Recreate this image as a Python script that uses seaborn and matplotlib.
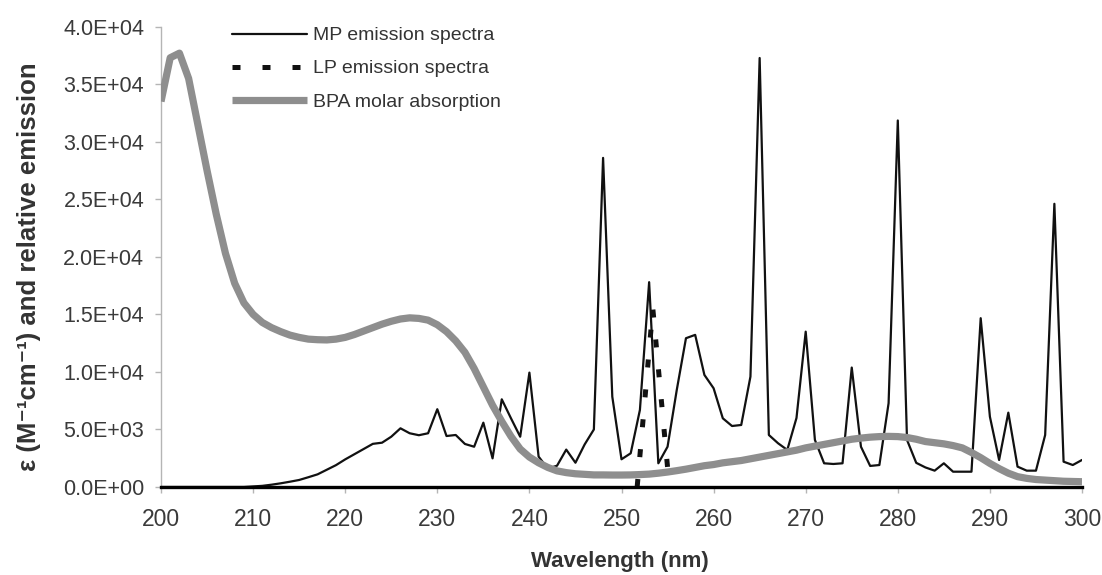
import numpy as np
import pandas as pd
import matplotlib
matplotlib.use("Agg")
import matplotlib.pyplot as plt
import seaborn as sns

# ---------------- data ----------------
wavelength = list(range(200, 301))

mp_emission = [
    0, 0, 0, 0, 0, 0, 0, 0, 0, 0,                 # 200-209
    50, 100, 200, 320, 460, 610, 850, 1100, 1500, 1900,   # 210-219
    2400, 2850, 3300, 3750, 3850, 4370, 5100, 4670, 4500, 4670,  # 220-229
    6760, 4430, 4520, 3740, 3500, 5590, 2490, 7620, 5970, 4370,  # 230-239
    9940, 2640, 1600, 1850, 3250, 2110, 3700, 5000, 28600, 7850, # 240-249
    2410, 2930, 6700, 17800, 2060, 3500, 8430, 12930, 13220, 9740, # 250-259
    8580, 5970, 5300, 5390, 9590, 37280, 4520, 3800, 3220, 6000,  # 260-269
    13500, 4090, 2060, 2000, 2060, 10380, 3500, 1830, 1910, 7280, # 270-279
    31850, 4090, 2100, 1700, 1420, 2060, 1330, 1330, 1330, 14670, # 280-289
    6110, 2350, 6460, 1770, 1420, 1420, 4520, 24610, 2200, 1910,  # 290-299
    2350,                                                         # 300
]

bpa_absorption = [
    33500, 37300, 37700, 35500, 31500, 27500, 23700, 20300, 17700, 16000,  # 200-209
    15000, 14300, 13850, 13500, 13200, 13000, 12850, 12800, 12780, 12850,  # 210-219
    13000, 13250, 13550, 13850, 14150, 14400, 14600, 14700, 14650, 14500,  # 220-229
    14100, 13500, 12700, 11700, 10300, 8700, 7100, 5700, 4400, 3300,       # 230-239
    2600, 2100, 1700, 1400, 1250, 1150, 1100, 1050, 1050, 1040,            # 240-249
    1040, 1050, 1080, 1120, 1200, 1300, 1420, 1550, 1700, 1850,            # 250-259
    1950, 2100, 2200, 2300, 2450, 2600, 2750, 2900, 3050, 3200,            # 260-269
    3400, 3550, 3700, 3850, 4000, 4150, 4250, 4330, 4380, 4400,            # 270-279
    4380, 4300, 4150, 3950, 3850, 3750, 3600, 3400, 3000, 2550,            # 280-289
    2050, 1600, 1200, 900, 750, 650, 600, 550, 500, 480,                   # 290-299
    460,                                                                   # 300
]

lp_wavelength = [251.7, 253.4, 255.2]
lp_emission = [0, 15500, 0]

x_ticks = list(range(200, 301, 10))
y_ticks = list(range(0, 40001, 5000))

labels = ["MP emission spectra", "LP emission spectra", "BPA molar absorption"]

# ---------------- plot ----------------
sns.set_theme(style="white")
plt.rcParams["font.family"] = ["Liberation Sans", "DejaVu Sans"]

fig = plt.figure(figsize=(11.02, 5.75), dpi=100)
ax = fig.add_axes([161 / 1102, 1 - 487 / 575, 921 / 1102, (487 - 26.7) / 575])

df_mp = pd.DataFrame({"wl": wavelength, "val": mp_emission})
df_bpa = pd.DataFrame({"wl": wavelength, "val": bpa_absorption})
df_lp = pd.DataFrame({"wl": lp_wavelength, "val": lp_emission})

sns.lineplot(data=df_mp, x="wl", y="val", ax=ax, color="#111111",
             linewidth=1.6, label=labels[0], zorder=3)
sns.lineplot(data=df_bpa, x="wl", y="val", ax=ax, color="#8e8e8e",
             linewidth=5.2, label=labels[2], zorder=4, solid_capstyle="butt")
sns.lineplot(data=df_lp, x="wl", y="val", ax=ax, color="#111111",
             linewidth=3.6, label=labels[1], zorder=5)
lp_line = ax.lines[2]
lp_line.set_dashes((1.6, 4.4))
lp_line.set_dash_capstyle("butt")

ax.set_xlim(200, 300)
ax.set_ylim(0, 40000)
ax.set_xticks(x_ticks)
ax.set_yticks(y_ticks)
ax.set_yticklabels(["%.1E" % v for v in y_ticks])

for s in ["top", "right"]:
    ax.spines[s].set_visible(False)
ax.spines["left"].set_color("#b5b5b5")
ax.spines["left"].set_linewidth(1.0)
ax.spines["bottom"].set_color("black")
ax.spines["bottom"].set_linewidth(2.4)
ax.spines["bottom"].set_zorder(6)

ax.tick_params(axis="both", which="major", direction="out", length=4,
               width=1, color="#b5b5b5", labelcolor="#3a3a3a",
               left=True, bottom=True)
ax.tick_params(axis="y", pad=8, labelsize=15.5)
ax.tick_params(axis="x", pad=11, labelsize=16.5)

ax.set_xlabel("Wavelength (nm)", fontsize=16, fontweight="bold", color="#333333")
ax.xaxis.set_label_coords(0.498, -0.138)
ax.set_ylabel("ε (M⁻¹cm⁻¹) and relative emission", fontsize=18.5,
              fontweight="bold", color="#333333")
ax.yaxis.set_label_coords(-0.130, 0.478)

handles, lbls = ax.get_legend_handles_labels()
order = [lbls.index(l) for l in labels]
leg = ax.legend([handles[i] for i in order], [lbls[i] for i in order],
                loc="upper left", bbox_to_anchor=(0.077, 1.0), frameon=False,
                fontsize=14, handlelength=3.85, handletextpad=0.3,
                labelspacing=0.8, borderpad=0, borderaxespad=0)
for t in leg.get_texts():
    t.set_color("#333333")

fig.savefig("out.png", dpi=100)
